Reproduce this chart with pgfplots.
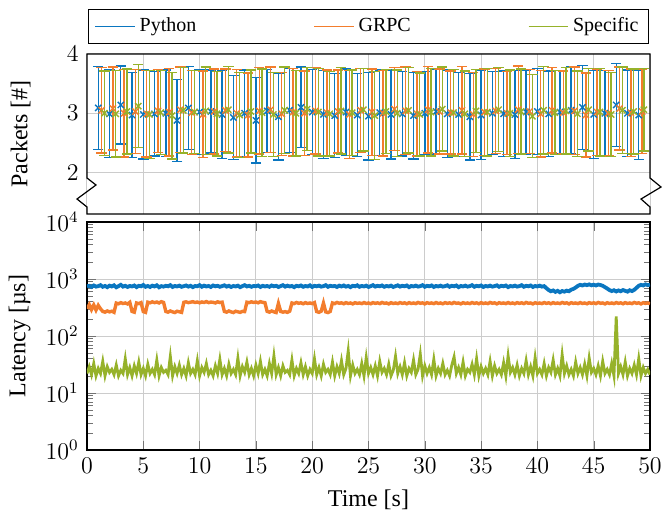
\documentclass[12pt,border=0pt]{standalone}
\usepackage{fontspec}
\setmainfont{Liberation Serif}
\usepackage{pgfplots}
\usepackage{pgfplotstable}
\pgfplotsset{compat=1.18}

\definecolor{cPy}{RGB}{10,118,192}
\definecolor{cGr}{RGB}{243,125,45}
\definecolor{cSp}{RGB}{150,178,42}

% packets: time, mean, spread
\pgfplotstableread{
x y e
1 3.09 0.70
2 2.99 0.74
3 3.14 0.66
4 2.97 0.72
5 2.98 0.75
6 2.99 0.71
7 3.00 0.73
8 2.88 0.69
9 3.09 0.70
10 3.02 0.72
11 3.03 0.70
12 2.98 0.74
13 2.93 0.71
14 3.00 0.73
15 2.88 0.72
16 3.04 0.70
17 2.94 0.73
18 3.05 0.71
19 3.10 0.68
20 3.02 0.72
21 2.98 0.74
22 2.96 0.71
23 3.02 0.73
24 2.97 0.70
25 2.95 0.74
26 3.01 0.72
27 2.98 0.75
28 2.99 0.71
29 2.96 0.73
30 3.00 0.70
31 3.03 0.72
32 2.99 0.74
33 2.98 0.71
34 2.94 0.73
35 2.97 0.75
36 3.00 0.70
37 2.99 0.72
38 2.98 0.74
39 3.02 0.71
40 3.03 0.73
41 2.99 0.72
42 3.02 0.70
43 3.05 0.73
44 3.10 0.71
45 2.98 0.74
46 3.00 0.72
47 3.14 0.70
48 3.00 0.73
49 2.97 0.75
}\pktpy

\pgfplotstableread{
x y e
1.3 3.05 0.72
2.3 3.08 0.70
3.3 3.00 0.74
4.3 3.03 0.71
5.3 2.99 0.73
6.3 3.04 0.70
7.3 3.02 0.74
8.3 3.06 0.72
9.3 3.01 0.71
10.3 2.98 0.73
11.3 3.03 0.72
12.3 3.05 0.70
13.3 3.00 0.74
14.3 2.97 0.71
15.3 3.04 0.73
16.3 3.06 0.72
17.3 2.99 0.70
18.3 3.02 0.74
19.3 3.00 0.71
20.3 3.04 0.73
21.3 3.01 0.72
22.3 3.03 0.70
23.3 2.98 0.74
24.3 3.05 0.71
25.3 3.02 0.73
26.3 3.00 0.72
27.3 3.07 0.70
28.3 3.04 0.74
29.3 2.99 0.71
30.3 3.06 0.73
31.3 3.03 0.72
32.3 3.01 0.70
33.3 3.05 0.74
34.3 2.98 0.71
35.3 3.02 0.73
36.3 3.04 0.72
37.3 3.00 0.70
38.3 3.06 0.74
39.3 3.03 0.71
40.3 2.99 0.73
41.3 3.05 0.72
42.3 3.01 0.70
43.3 3.04 0.74
44.3 2.97 0.71
45.3 3.02 0.73
46.3 3.00 0.72
47.3 3.08 0.70
48.3 3.01 0.74
49.3 3.03 0.71
}\pktgr

\pgfplotstableread{
x y e
1.55 3.00 0.71
2.55 2.99 0.73
3.55 3.03 0.72
4.55 3.12 0.70
5.55 2.98 0.74
6.55 3.01 0.71
7.55 2.96 0.73
8.55 3.05 0.72
9.55 3.02 0.70
10.55 3.04 0.74
11.55 2.99 0.71
12.55 3.06 0.73
13.55 2.97 0.72
14.55 3.03 0.70
15.55 3.01 0.74
16.55 2.98 0.71
17.55 3.05 0.73
18.55 3.00 0.72
19.55 3.07 0.70
20.55 3.02 0.74
21.55 2.99 0.71
22.55 3.04 0.73
23.55 3.01 0.72
24.55 3.06 0.70
25.55 2.96 0.74
26.55 3.03 0.71
27.55 3.00 0.73
28.55 3.05 0.72
29.55 2.98 0.70
30.55 3.02 0.74
31.55 3.07 0.71
32.55 3.01 0.73
33.55 2.99 0.72
34.55 3.04 0.70
35.55 3.02 0.74
36.55 3.06 0.71
37.55 3.00 0.73
38.55 3.03 0.72
39.55 2.95 0.70
40.55 3.05 0.74
41.55 3.01 0.71
42.55 3.04 0.73
43.55 2.99 0.72
44.55 3.06 0.70
45.55 3.02 0.74
46.55 2.98 0.71
47.55 3.05 0.73
48.55 3.03 0.72
49.45 3.06 0.70
}\pktsp

% latency in microseconds: time, python, grpc, specific
\pgfplotstableread{
t py gr sp
0.0 745 300 22
0.2 760 355 29
0.4 725 290 21
0.6 770 350 33
0.8 735 285 20
1.0 750 345 27
1.2 780 300 22
1.4 730 270 36
1.6 755 262 20
1.8 720 275 29
2.0 765 265 23
2.2 740 272 26
2.4 775 260 21
2.6 715 378 31
2.8 750 368 20
3.0 790 385 25
3.2 735 372 22
3.4 760 380 40
3.6 725 365 21
3.8 755 390 28
4.0 740 270 20
4.2 770 262 30
4.4 720 380 22
4.6 760 370 35
4.8 745 385 21
5.0 785 268 27
5.2 730 260 20
5.4 755 392 32
5.6 725 382 22
5.8 765 398 26
6.0 740 385 21
6.2 775 395 38
6.4 715 380 20
6.6 750 400 28
6.8 735 388 23
7.0 760 270 25
7.2 745 262 21
7.4 780 275 44
7.6 725 265 20
7.8 755 258 29
8.0 740 272 22
8.2 765 266 31
8.4 730 260 21
8.6 750 390 27
8.8 770 398 20
9.0 735 385 34
9.2 760 392 22
9.4 720 400 26
9.6 755 388 21
9.8 745 395 37
10.0 780 382 20
10.2 730 396 28
10.4 765 388 23
10.6 740 402 33
10.8 755 385 21
11.0 725 394 25
11.2 770 390 20
11.4 745 380 30
11.6 760 398 22
11.8 730 387 39
12.0 750 393 21
12.2 775 270 27
12.4 735 262 20
12.6 760 275 32
12.8 725 265 22
13.0 755 258 26
13.2 740 272 21
13.4 765 266 41
13.6 720 260 20
13.8 750 270 29
14.0 780 268 23
14.2 740 392 35
14.4 760 385 21
14.6 730 398 27
14.8 755 388 20
15.0 745 395 31
15.2 770 382 22
15.4 725 400 36
15.6 760 390 21
15.8 740 385 26
16.0 755 270 20
16.2 730 262 33
16.4 770 275 22
16.6 745 265 45
16.8 760 258 21
17.0 725 372 28
17.2 750 270 20
17.4 780 262 30
17.6 735 268 23
17.8 765 260 25
18.0 740 272 21
18.2 755 380 38
18.4 720 370 20
18.6 760 388 27
18.8 745 375 22
19.0 770 382 34
19.2 730 368 21
19.4 755 385 29
19.6 740 372 20
19.8 775 380 26
20.0 725 370 22
20.2 760 386 40
20.4 745 268 21
20.6 765 260 28
20.8 735 272 20
21.0 750 378 32
21.2 780 265 23
21.4 730 258 26
21.6 760 270 21
21.8 745 380 35
22.0 755 370 20
22.2 725 388 29
22.4 765 375 22
22.6 740 382 37
22.8 770 368 21
23.0 735 385 27
23.2 755 372 55
23.4 720 380 20
23.6 760 366 31
23.8 745 384 22
24.0 775 374 26
24.2 730 380 21
24.4 755 370 33
24.6 740 386 20
24.8 765 372 42
25.0 725 380 22
25.2 750 368 28
25.4 780 385 21
25.6 735 374 30
25.8 760 382 20
26.0 745 370 36
26.2 770 388 23
26.4 730 375 27
26.6 755 380 21
26.8 740 366 32
27.0 765 384 20
27.2 725 372 25
27.4 750 380 44
27.6 775 370 22
27.8 735 386 29
28.0 760 374 21
28.2 745 382 34
28.4 770 368 20
28.6 720 385 27
28.8 755 372 23
29.0 740 380 38
29.2 765 370 21
29.4 735 388 26
29.6 750 375 48
29.8 780 382 20
30.0 730 366 30
30.2 760 384 22
30.4 745 374 28
30.6 770 380 21
30.8 725 370 39
31.0 755 386 20
31.2 740 372 27
31.4 765 380 22
31.6 735 368 33
31.8 750 385 21
32.0 775 374 25
32.2 730 382 20
32.4 760 370 31
32.6 745 388 43
32.8 770 375 22
33.0 720 380 28
33.2 755 366 21
33.4 740 384 35
33.6 765 372 20
33.8 735 380 26
34.0 750 370 23
34.2 780 386 32
34.4 730 374 21
34.6 760 382 40
34.8 745 368 20
35.0 770 385 29
35.2 725 372 22
35.4 755 380 27
35.6 740 370 21
35.8 765 388 36
36.0 735 375 20
36.2 750 382 30
36.4 775 366 22
36.6 730 384 26
36.8 760 374 21
37.0 745 380 34
37.2 770 370 20
37.4 720 386 45
37.6 755 372 23
37.8 740 380 28
38.0 765 368 21
38.2 735 385 31
38.4 750 374 20
38.6 780 382 27
38.8 730 370 22
39.0 760 388 37
39.2 745 375 21
39.4 770 380 29
39.6 725 366 20
39.8 755 384 42
40.0 740 372 22
40.2 765 380 26
40.4 735 370 21
40.6 750 386 33
40.8 690 374 20
41.0 640 382 28
41.2 610 368 23
41.4 630 385 38
41.6 595 372 21
41.8 620 380 27
42.0 585 370 20
42.2 615 388 47
42.4 600 375 22
42.6 625 382 30
42.8 610 366 21
43.0 650 384 26
43.2 670 374 20
43.4 710 380 35
43.6 760 370 22
43.8 790 386 28
44.0 770 372 21
44.2 800 380 32
44.4 780 368 20
44.6 805 385 41
44.8 775 374 23
45.0 795 382 27
45.2 770 370 21
45.4 800 388 30
45.6 785 375 20
45.8 760 380 36
46.0 720 366 22
46.2 680 384 26
46.4 640 372 21
46.6 615 380 33
46.8 635 370 20
47.0 605 386 220
47.2 630 374 22
47.4 610 382 29
47.6 640 368 21
47.8 620 385 35
48.0 600 372 20
48.2 635 380 27
48.4 615 370 22
48.6 645 388 31
48.8 700 375 21
49.0 760 382 40
49.2 790 366 20
49.4 770 384 28
49.6 805 374 22
49.8 780 380 26
50.0 795 370 21
}\lat

\pgfplotsset{
  every axis/.append style={
    scale only axis, width=281.5pt,
    xmin=0, xmax=50, xtick={0,5,...,50},
    grid=major,
    major grid style={black!20, line width=0.5pt},
    label style={font=\normalsize},
    xticklabel style={inner xsep=0pt},
  },
}

\begin{document}
\begin{tikzpicture}
\begin{axis}[
  name=top,
  height=80pt,
  ymin=1.3, ymax=4,
  ytick={2,3,4},
  xticklabels={},
  axis line style={draw=none},
  tick style={draw=none},
  ylabel={Packets [\#]},
  ylabel style={at={(axis description cs:-0.0995,0.5)}, anchor=south, inner sep=0pt},
  legend columns=3,
  legend cell align=left,
  legend image code/.code={\draw[#1] (0cm,0cm) -- (0.7cm,0cm);},
  legend style={at={(0.5,1.0625)}, anchor=south, draw=black, line width=0.6pt,
    font=\fontsize{10}{12}\selectfont,
    /tikz/column 2/.style={column sep=56.5pt},
    /tikz/column 4/.style={column sep=56.5pt}},
  error bars/error bar style={line width=0.7pt},
  error bars/error mark options={rotate=90, line width=0.7pt, mark size=2.6pt},
]
\addplot[cPy, only marks, mark=x, mark size=2.2pt, line width=0.7pt, forget plot,
  error bars/.cd, y dir=both, y explicit]
  table[x=x, y=y, y error=e]{\pktpy};
\addplot[cGr, only marks, mark=x, mark size=2.2pt, line width=0.7pt, forget plot,
  error bars/.cd, y dir=both, y explicit]
  table[x=x, y=y, y error=e]{\pktgr};
\addplot[cSp, only marks, mark=x, mark size=2.2pt, line width=0.7pt, forget plot,
  error bars/.cd, y dir=both, y explicit]
  table[x=x, y=y, y error=e]{\pktsp};
\addlegendimage{cPy, line width=0.7pt}
\addlegendimage{cGr, line width=0.7pt}
\addlegendimage{cSp, line width=0.7pt}
\legend{Python, GRPC, Specific}
\end{axis}

% frame of the upper axis with the break marks
\draw[line width=0.6pt, line join=miter] (top.south west) ++(0,18pt) -- ++(0,62pt) -- ++(281.5pt,0)
  -- ++(0,-62pt) -- ++(5.5pt,-4.5pt) -- ++(-10pt,-6pt) -- ++(4.5pt,-4pt) -- ++(0,-3.5pt)
  -- ++(-281.5pt,0) -- ++(0,3.5pt) -- ++(-5pt,4pt) -- ++(9.5pt,7pt) -- cycle;

\begin{axis}[
  name=bot,
  at={(top.south west)}, anchor=north west, yshift=-4pt,
  height=114pt,
  ymode=log, ymin=1, ymax=1e4,
  ytick={1,10,100,1000,10000},
  axis line style={line width=0.6pt},
  tick style={black!55},
  xlabel={Time [s]},
  ylabel={Latency [µs]},
  ylabel style={at={(axis description cs:-0.0995,0.5)}, anchor=south, inner sep=0pt},
]
\addplot[cPy, line width=1.9pt] table[x=t, y=py]{\lat};
\addplot[cGr, line width=1.7pt] table[x=t, y=gr]{\lat};
\addplot[cSp, line width=1.4pt] table[x=t, y=sp]{\lat};
\end{axis}

\path (bot.south west) ++(-43.5pt,-31pt) rectangle ++(331pt,256pt);
\end{tikzpicture}
\end{document}
